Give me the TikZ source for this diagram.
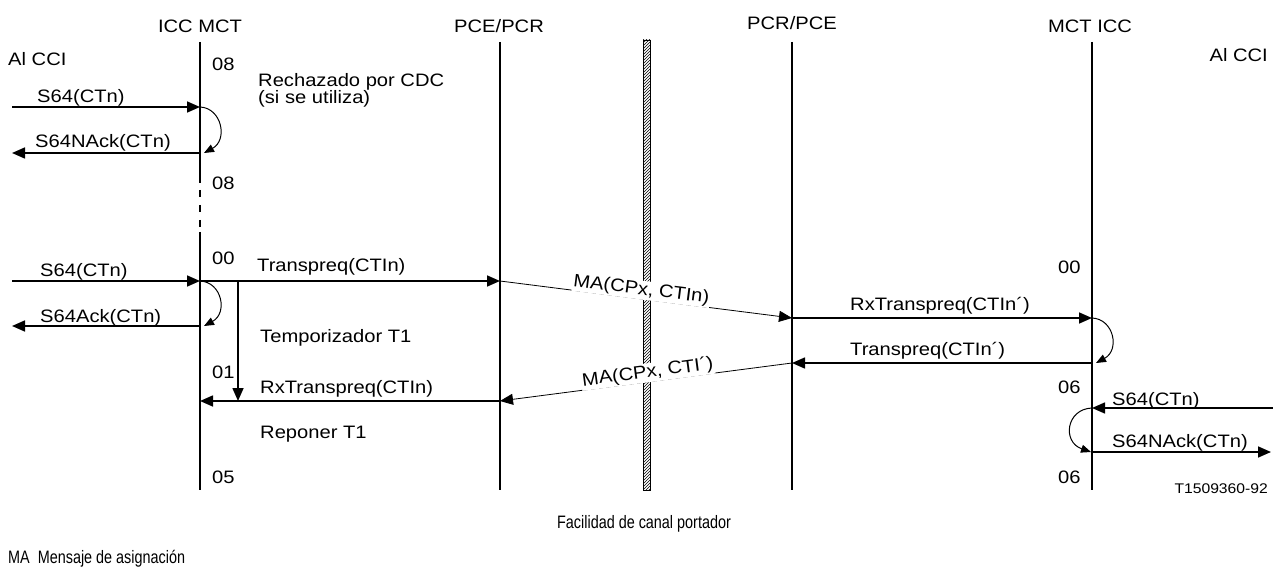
\documentclass[tikz,border=0pt]{standalone}
\usepackage{fontspec}
\setmainfont{Liberation Sans}[FakeStretch=1.12]
\newfontfamily\narrowfont{Liberation Sans}[FakeStretch=0.8]
\usetikzlibrary{arrows.meta,patterns}
\tikzstyle{life} = [line width=1.6pt]
\tikzstyle{msg} = [line width=1.6pt, -{Triangle[length=13pt,width=11pt]}]
\tikzstyle{ma} = [line width=0.8pt, -{Triangle[length=13pt,width=11pt]}]
\tikzstyle{turn} = [line width=1pt, -{Triangle[length=10pt,width=8pt]}]
\tikzstyle{lbl} = [anchor=base west, inner sep=0pt]
\tikzstyle{head} = [anchor=base, inner sep=0pt]
\tikzstyle{malbl} = [sloped, above=-1pt, fill=white, inner sep=1pt]

\begin{document}
\begin{tikzpicture}[x=1pt,y=-1pt,every node/.style={font=\fontsize{18}{21}\selectfont}]
\useasboundingbox (0,0) rectangle (1273,569);

% entities
\node[head] (icc) at (200,33) {ICC MCT};
\node[head] (pce) at (499,33) {PCE/PCR};
\node[head] (pcr) at (792,30) {PCR/PCE};
\node[head] (mct) at (1090,33) {MCT ICC};
\node[lbl] (cciL) at (8,66) {Al CCI};
\node[lbl, anchor=base east] (cciR) at (1268,62) {Al CCI};

\coordinate (iccT) at (200,42);  \coordinate (iccB) at (200,490);
\coordinate (iccM1) at (200,183); \coordinate (iccM2) at (200,232);
\coordinate (pceT) at (500,42);  \coordinate (pceB) at (500,490);
\coordinate (pcrT) at (792,42);  \coordinate (pcrB) at (792,490);
\coordinate (mctT) at (1092,42); \coordinate (mctB) at (1092,490);

% bearer channel
\node[draw, line width=0.6pt, pattern=north east lines, minimum width=7pt,
      minimum height=450pt, inner sep=0pt] (bar) at (646.5,265) {};

\draw[life] (iccT) -- (iccM1);
\draw[life, dash pattern=on 7pt off 8pt, dash phase=8pt] (iccM1) -- (iccM2);
\draw[life] (iccM2) -- (iccB);
\draw[life] (pceT) -- (pceB);
\draw[life] (pcrT) -- (pcrB);
\draw[life] (mctT) -- (mctB);

% rejected
\node[lbl] (s08a) at (212,71) {08};
\node[lbl] (rech) at (258,87) {Rechazado por CDC};
\node[lbl] (rech2) at (258,104) {(si se utiliza)};
\node[lbl] (s08b) at (212,190) {08};

\coordinate (a1) at (12,107);  \coordinate (b1) at (200,107);
\coordinate (a2) at (12,153);  \coordinate (b2) at (200,153);
\coordinate (b2x) at (204,153);
\draw[msg] (a1) -- (b1);
\draw[msg] (b2) -- (a2);
\draw[turn] (b1) .. controls (222,108) and (228,140) .. (b2x);
\node[lbl] (m1) at (37,103) {S64(CTn)};
\node[lbl] (m2) at (35,148) {S64NAck(CTn)};

% accepted
\node[lbl] (s00) at (212,265) {00};
\node[lbl] (s01) at (212,378) {01};
\node[lbl] (s05) at (212,483) {05};
\node[lbl] (tmp) at (260,342) {Temporizador T1};
\node[lbl] (rep) at (260,438) {Reponer T1};

\coordinate (a3) at (12,281);  \coordinate (b3) at (200,281);
\coordinate (a4) at (12,326);  \coordinate (b4) at (200,326);
\coordinate (b4x) at (204,326);
\coordinate (c3) at (500,281); \coordinate (c5) at (500,401);
\coordinate (b5) at (200,401);
\coordinate (t1) at (238,281); \coordinate (t2) at (238,401);
\draw[msg] (a3) -- (b3);
\draw[msg] (b4) -- (a4);
\draw[turn] (b3) .. controls (222,282) and (228,313) .. (b4x);
\draw[msg] (b3) -- (c3);
\draw[msg] (t1) -- (t2);
\draw[msg] (c5) -- (b5);
\node[lbl] (m3) at (40,276) {S64(CTn)};
\node[lbl] (m4) at (40,322) {S64Ack(CTn)};
\node[lbl] (m5) at (257,271) {Transpreq(CTIn)};
\node[lbl] (m6) at (260,393) {RxTranspreq(CTIn)};

% across the bearer
\coordinate (d3) at (792,318); \coordinate (e3) at (1092,318);
\coordinate (d4) at (792,363); \coordinate (e4) at (1092,363);
\coordinate (e4x) at (1096,363);
\draw[ma] (c3) -- node[malbl, pos=.48] {MA(CPx, CTIn)} (d3);
\draw[ma] (d4) -- node[malbl, pos=.49] {MA(CPx, CTI´)} (c5);

% far side
\draw[msg] (d3) -- (e3);
\draw[msg] (e4) -- (d4);
\draw[turn] (e3) .. controls (1114,319) and (1120,350) .. (e4x);
\node[lbl] (m7) at (850,310) {RxTranspreq(CTIn´)};
\node[lbl] (m8) at (850,355) {Transpreq(CTIn´)};
\node[lbl] (r00) at (1058,273) {00};
\node[lbl] (r06a) at (1058,393) {06};
\node[lbl] (r06b) at (1058,483) {06};

\coordinate (e6) at (1092,408); \coordinate (f6) at (1273,408);
\coordinate (e7) at (1092,452); \coordinate (f7) at (1271,452);
\coordinate (e7x) at (1091,452);
\draw[msg] (f6) -- (e6);
\draw[msg] (e7) -- (f7);
\draw[turn] (e6) .. controls (1066,409) and (1062,442) .. (e7x);
\node[lbl] (m9) at (1112,405) {S64(CTn)};
\node[lbl] (m10) at (1112,447) {S64NAck(CTn)};

\node[lbl, anchor=base east, font=\fontsize{14}{17}\selectfont] (ref) at (1268,493) {T1509360-92};
\node[head, font=\narrowfont\fontsize{18}{21}\selectfont] (fac) at (644,528) {Facilidad de canal portador};
\node[lbl, font=\narrowfont\fontsize{18}{21}\selectfont] (key) at (8,563) {MA\ \ Mensaje de asignación};
\end{tikzpicture}
\end{document}
